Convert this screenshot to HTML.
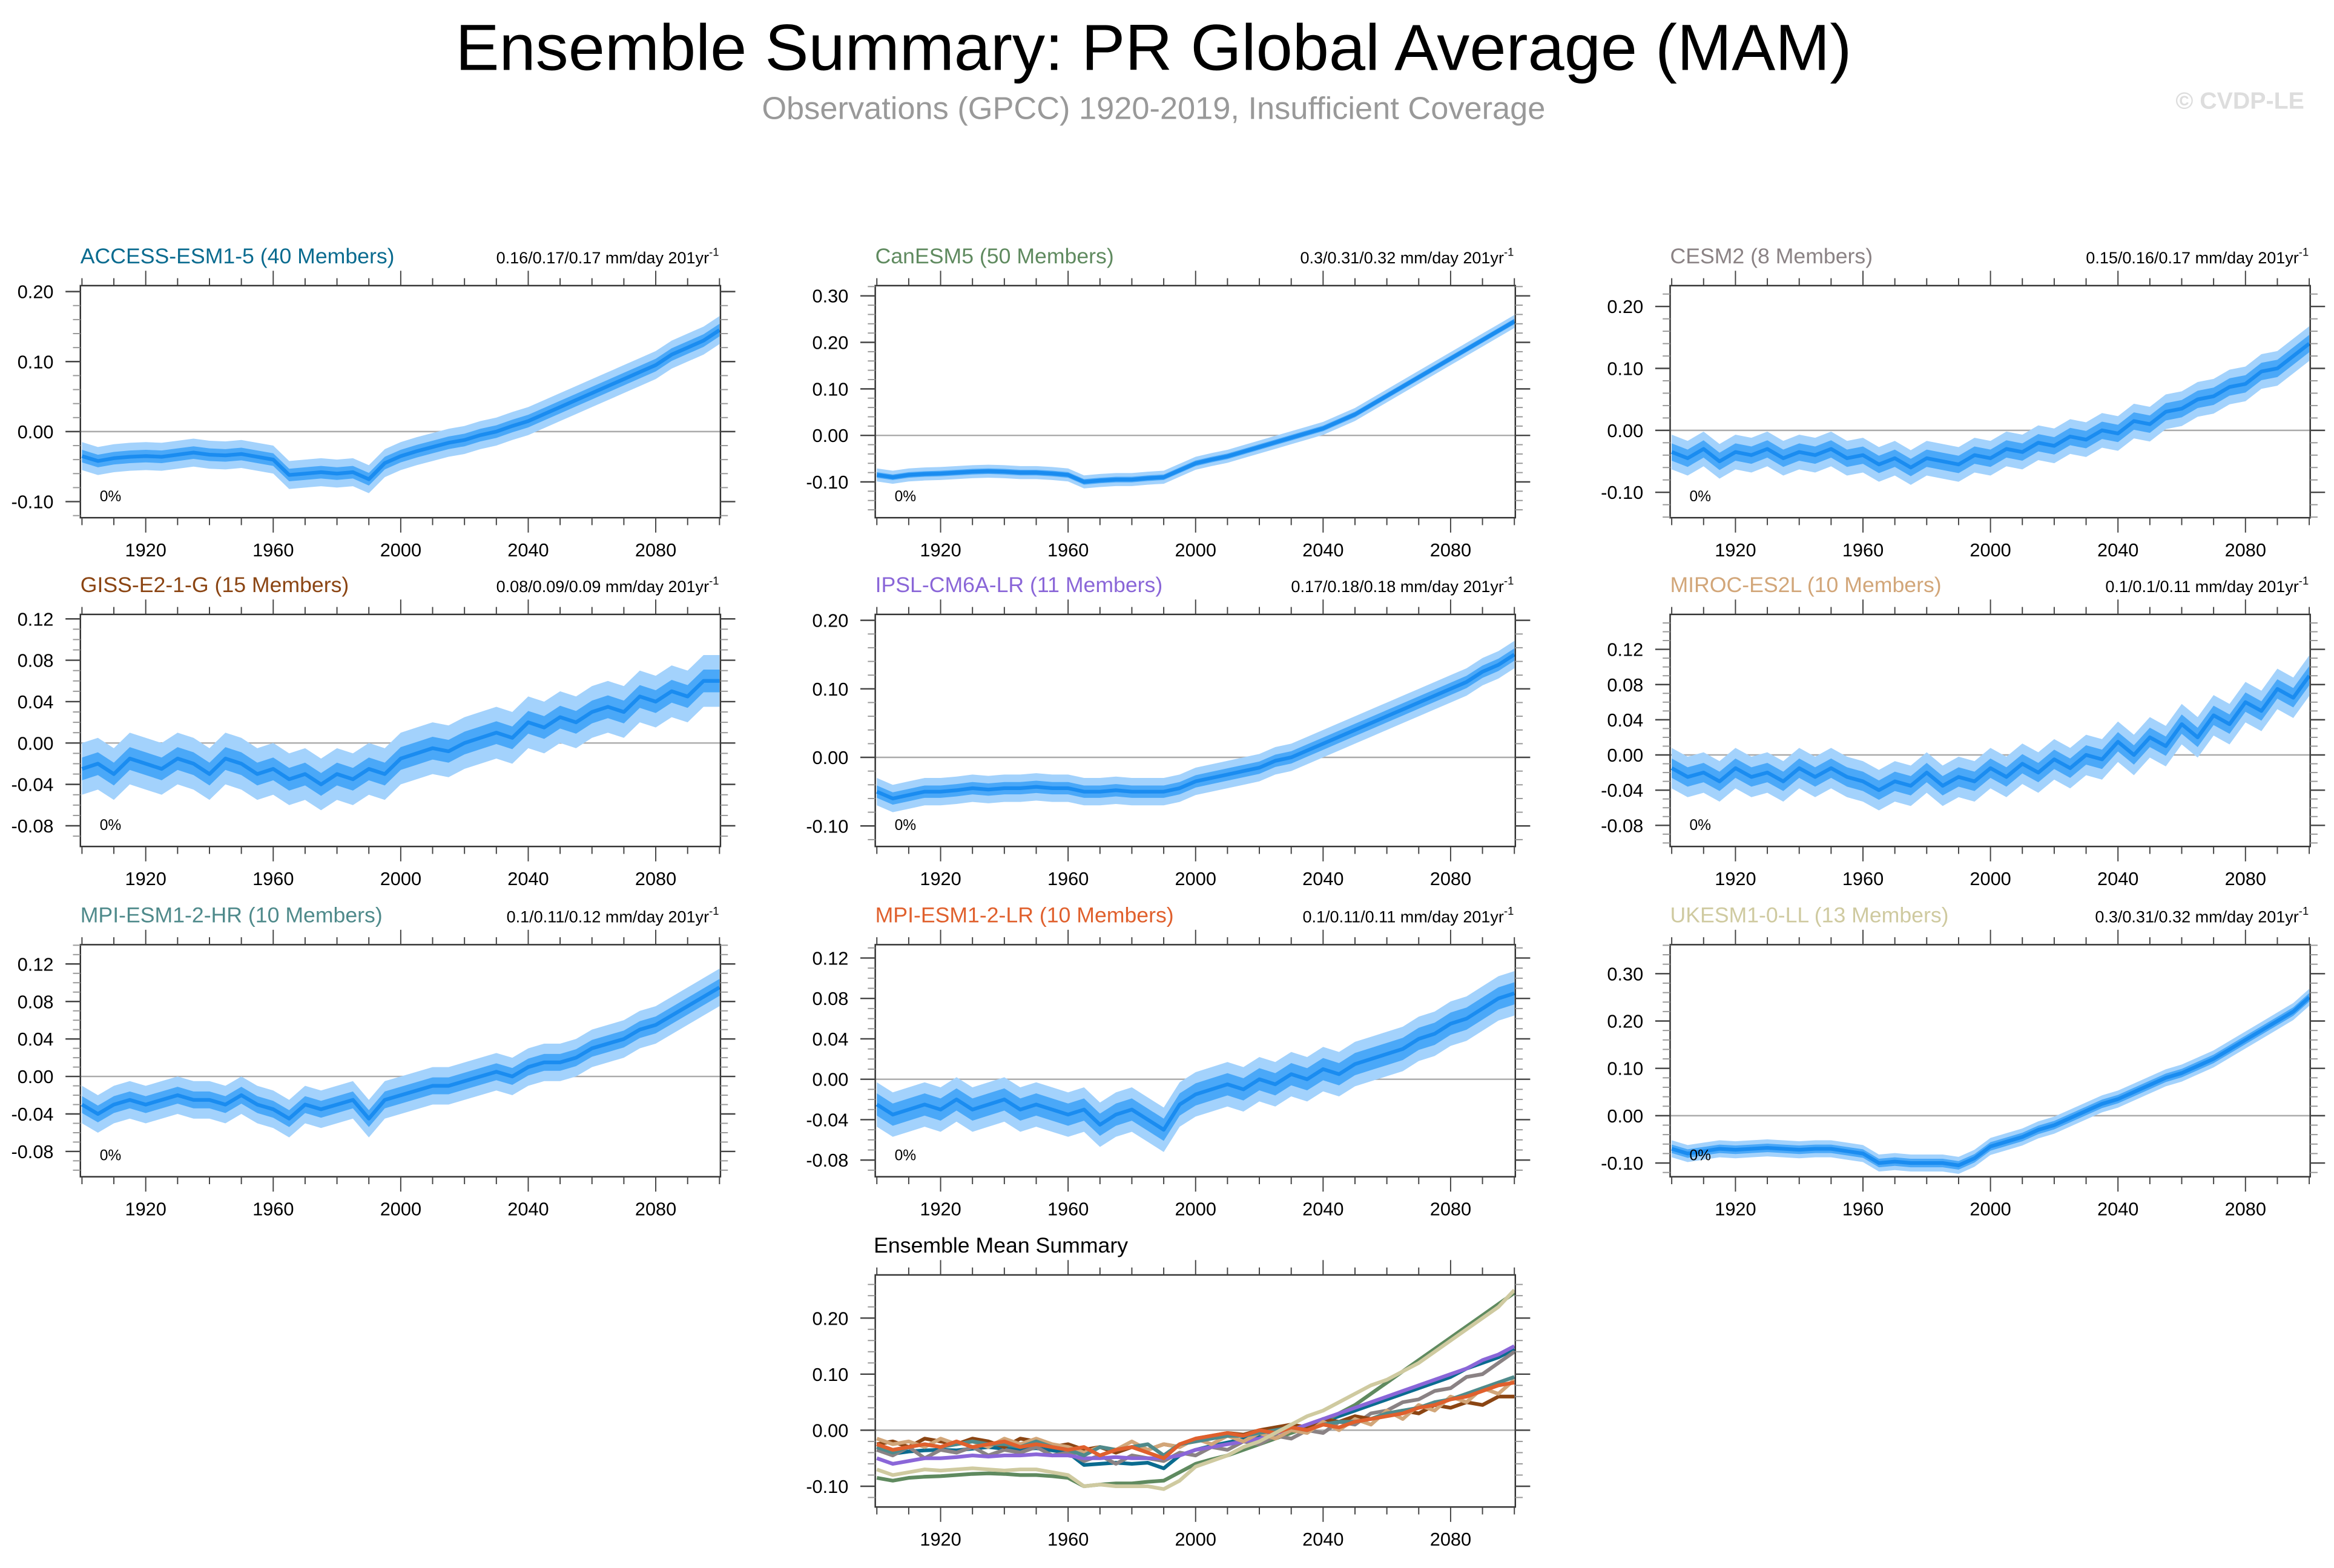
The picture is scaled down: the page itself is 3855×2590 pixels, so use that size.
<!DOCTYPE html>
<html><head><meta charset="utf-8"><title>Ensemble Summary: PR Global Average (MAM)</title>
<style>html,body{margin:0;padding:0;background:#fff}svg{display:block}text{font-family:"Liberation Sans",sans-serif}</style>
</head><body>
<svg id="chart" xmlns="http://www.w3.org/2000/svg" width="3855" height="2590" viewBox="0 0 1568 1054" preserveAspectRatio="none">
<rect x="0" y="0" width="1568" height="1054" fill="#fff"/>
<text x="775" y="47" font-size="44" text-anchor="middle" fill="#000">Ensemble Summary: PR Global Average (MAM)</text>
<text x="775" y="80" font-size="21.3" text-anchor="middle" fill="#999">Observations (GPCC) 1920-2019, Insufficient Coverage</text>
<text x="1548" y="73" font-size="16" font-weight="bold" text-anchor="end" fill="#ddd">© CVDP-LE</text>
<text x="587" y="842" font-size="14.5" fill="#000">Ensemble Mean Summary</text>
</svg>
<script>
const years = [1900,1905,1910,1915,1920,1925,1930,1935,1940,1945,1950,1955,1960,1965,1970,1975,1980,1985,1990,1995,2000,2005,2010,2015,2020,2025,2030,2035,2040,2045,2050,2055,2060,2065,2070,2075,2080,2085,2090,2095,2100];
const modelNames = ["ACCESS-ESM1-5 (40 Members)","CanESM5 (50 Members)","CESM2 (8 Members)","GISS-E2-1-G (15 Members)","IPSL-CM6A-LR (11 Members)","MIROC-ES2L (10 Members)","MPI-ESM1-2-HR (10 Members)","MPI-ESM1-2-LR (10 Members)","UKESM1-0-LL (13 Members)"];
const trendLabels = ["0.16/0.17/0.17 mm/day 201yr","0.3/0.31/0.32 mm/day 201yr","0.15/0.16/0.17 mm/day 201yr","0.08/0.09/0.09 mm/day 201yr","0.17/0.18/0.18 mm/day 201yr","0.1/0.1/0.11 mm/day 201yr","0.1/0.11/0.12 mm/day 201yr","0.1/0.11/0.11 mm/day 201yr","0.3/0.31/0.32 mm/day 201yr"];
const modelColors = ["#0a6b8f","#5f8a5f","#8a8284","#8b4513","#8a66d8","#d2a679","#4f8a8b","#e0602d","#cfcaa0"];
const meanAccess = [-0.035,-0.042,-0.038,-0.036,-0.035,-0.036,-0.033,-0.03,-0.033,-0.034,-0.032,-0.036,-0.04,-0.062,-0.06,-0.058,-0.06,-0.058,-0.068,-0.045,-0.035,-0.028,-0.022,-0.016,-0.012,-0.005,0.0,0.008,0.015,0.025,0.035,0.045,0.055,0.065,0.075,0.085,0.095,0.11,0.12,0.13,0.145];
const meanCanesm = [-0.085,-0.09,-0.085,-0.083,-0.082,-0.08,-0.078,-0.077,-0.078,-0.08,-0.08,-0.082,-0.085,-0.1,-0.097,-0.095,-0.095,-0.092,-0.09,-0.075,-0.06,-0.052,-0.045,-0.035,-0.025,-0.015,-0.005,0.005,0.015,0.03,0.045,0.065,0.085,0.105,0.125,0.145,0.165,0.185,0.205,0.225,0.245];
const meanCesm = [-0.035,-0.045,-0.03,-0.05,-0.035,-0.04,-0.03,-0.045,-0.035,-0.04,-0.03,-0.045,-0.04,-0.055,-0.045,-0.06,-0.045,-0.05,-0.055,-0.04,-0.045,-0.03,-0.035,-0.02,-0.025,-0.01,-0.015,0.0,-0.005,0.015,0.01,0.03,0.035,0.05,0.055,0.07,0.075,0.095,0.1,0.12,0.14];
const meanGiss = [-0.025,-0.02,-0.03,-0.015,-0.02,-0.025,-0.015,-0.02,-0.03,-0.015,-0.02,-0.03,-0.025,-0.035,-0.03,-0.04,-0.03,-0.035,-0.025,-0.03,-0.015,-0.01,-0.005,-0.008,0.0,0.005,0.01,0.005,0.02,0.015,0.025,0.02,0.03,0.035,0.03,0.045,0.04,0.05,0.045,0.06,0.06];
const meanIpsl = [-0.05,-0.06,-0.055,-0.05,-0.05,-0.048,-0.045,-0.047,-0.045,-0.045,-0.043,-0.045,-0.045,-0.05,-0.05,-0.048,-0.05,-0.05,-0.05,-0.045,-0.035,-0.03,-0.025,-0.02,-0.015,-0.005,0.0,0.01,0.02,0.03,0.04,0.05,0.06,0.07,0.08,0.09,0.1,0.11,0.125,0.135,0.15];
const meanMiroc = [-0.015,-0.025,-0.02,-0.03,-0.015,-0.025,-0.02,-0.03,-0.015,-0.025,-0.015,-0.025,-0.03,-0.04,-0.03,-0.035,-0.02,-0.035,-0.025,-0.03,-0.015,-0.025,-0.01,-0.02,-0.005,-0.015,0.0,-0.005,0.015,0.0,0.02,0.01,0.035,0.02,0.045,0.035,0.06,0.05,0.075,0.065,0.09];
const meanMpiHr = [-0.03,-0.04,-0.03,-0.025,-0.03,-0.025,-0.02,-0.025,-0.025,-0.03,-0.02,-0.03,-0.035,-0.045,-0.03,-0.035,-0.03,-0.025,-0.045,-0.025,-0.02,-0.015,-0.01,-0.01,-0.005,0.0,0.005,0.0,0.01,0.015,0.015,0.02,0.03,0.035,0.04,0.05,0.055,0.065,0.075,0.085,0.095];
const meanMpiLr = [-0.025,-0.035,-0.03,-0.025,-0.03,-0.02,-0.03,-0.025,-0.02,-0.03,-0.025,-0.03,-0.035,-0.03,-0.045,-0.035,-0.03,-0.04,-0.05,-0.025,-0.015,-0.01,-0.005,-0.01,0.0,-0.005,0.005,0.0,0.01,0.005,0.015,0.02,0.025,0.03,0.04,0.045,0.055,0.06,0.07,0.08,0.085];
const meanUkesm = [-0.07,-0.08,-0.075,-0.07,-0.072,-0.07,-0.068,-0.07,-0.072,-0.07,-0.07,-0.075,-0.08,-0.1,-0.097,-0.1,-0.1,-0.1,-0.105,-0.09,-0.065,-0.055,-0.045,-0.03,-0.02,-0.005,0.01,0.025,0.035,0.05,0.065,0.08,0.09,0.105,0.12,0.14,0.16,0.18,0.2,0.22,0.25];
const innerSpread = [0.009,0.006,0.014,0.011,0.009,0.011,0.009,0.011,0.009];
const outerSpread = [0.02,0.014,0.028,0.025,0.02,0.023,0.02,0.022,0.018];
const yRangeMin = [-0.123,-0.177,-0.141,-0.100,-0.130,-0.104,-0.107,-0.0965,-0.129,-0.137];
const yRangeMax = [0.2085,0.322,0.2336,0.1243,0.2086,0.1597,0.1406,0.1332,0.3613,0.277];
const yTickLabels = [
 [-0.10,0.00,0.10,0.20],[-0.10,0.00,0.10,0.20,0.30],[-0.10,0.00,0.10,0.20],
 [-0.08,-0.04,0.00,0.04,0.08,0.12],[-0.10,0.00,0.10,0.20],[-0.08,-0.04,0.00,0.04,0.08,0.12],
 [-0.08,-0.04,0.00,0.04,0.08,0.12],[-0.08,-0.04,0.00,0.04,0.08,0.12],[-0.10,0.00,0.10,0.20,0.30],
 [-0.10,0.00,0.10,0.20]];
const xTickLabels = [1920,1960,2000,2040,2080];
const allMeans = [meanAccess,meanCanesm,meanCesm,meanGiss,meanIpsl,meanMiroc,meanMpiHr,meanMpiLr,meanUkesm];

const NS="http://www.w3.org/2000/svg";
const svg=document.getElementById('chart');
function mk(tag,attrs,parent){const e=document.createElementNS(NS,tag);for(const k in attrs)e.setAttribute(k,attrs[k]);(parent||svg).appendChild(e);return e;}
const colX=[54,588,1122], rowY=[192,413,635,857], W=430, H=156;

function drawPanel(idx,left,top,isSummary){
  const g=mk('g',{});
  
  
  const ymin=yRangeMin[idx], ymax=yRangeMax[idx];
  const sx=yr=>left+(yr-1899.5)/(2100.3-1899.5)*W;
  const sy=v=>top+(ymax-v)/(ymax-ymin)*H;
  mk('rect',{x:left,y:top,width:W,height:H,fill:'#fff'},g);
  const clip='clip'+idx;
  const cp=mk('clipPath',{id:clip},g); mk('rect',{x:left,y:top,width:W,height:H},cp);
  const inner=mk('g',{'clip-path':'url(#'+clip+')'},g);
  const zl=mk('line',{x1:left,x2:left+W,y1:sy(0),y2:sy(0),stroke:'#aaa','stroke-width':1},inner);
  
  
  const series = isSummary ? allMeans.map((_,i)=>i) : [idx];
  series.forEach(m=>{
    const vals=allMeans[m];
    if(!isSummary){
      [[outerSpread[m],'#a3d2fc','outer-range-band'],[innerSpread[m],'#4aa8f8','inner-spread-band']].forEach(([s,c,nm])=>{
        let pts=years.map((y,i)=>sx(y)+','+sy(vals[i]+s));
        pts=pts.concat(years.slice().reverse().map((y,j)=>{const i=years.length-1-j;return sx(y)+','+sy(vals[i]-s);}));
        const pg=mk('polygon',{points:pts.join(' '),fill:c},inner);
        
        
      });
    }
    const pl=mk('polyline',{points:years.map((y,i)=>sx(y)+','+sy(vals[i])).join(' '),fill:'none',stroke:isSummary?modelColors[m]:'#1a8cf0','stroke-width':2.5,'stroke-linejoin':'round'},inner);
    
    
  });
  mk('rect',{x:left,y:top,width:W,height:H,fill:'none',stroke:'#333','stroke-width':1},g);
  for(let yr=1900; yr<=2100; yr+=10){
    const major=(yr-1920)%40===0;
    const L=major?10:5, x=sx(yr);
    mk('line',{x1:x,x2:x,y1:top+H,y2:top+H+L,stroke:'#444','stroke-width':0.8},g);
    mk('line',{x1:x,x2:x,y1:top,y2:top-L,stroke:'#444','stroke-width':0.8},g);
  }
  xTickLabels.forEach(yr=>{
    const t=mk('text',{x:sx(yr),y:top+H+26,'font-size':12.5,'text-anchor':'middle',fill:'#000'},g);
    t.textContent=yr;
    
    
  });
  const ticks=yTickLabels[idx];
  const step=ticks[1]-ticks[0];
  const minor=step>0.05?0.02:0.01;
  for(let v=Math.ceil((ymin+1e-9)/minor)*minor; v<=ymax+1e-9; v+=minor){
    const y=sy(v);
    mk('line',{x1:left,x2:left-5,y1:y,y2:y,stroke:'#999','stroke-width':0.8},g);
    mk('line',{x1:left+W,x2:left+W+5,y1:y,y2:y,stroke:'#999','stroke-width':0.8},g);
  }
  ticks.forEach(v=>{
    const y=sy(v);
    mk('line',{x1:left,x2:left-10,y1:y,y2:y,stroke:'#444','stroke-width':1},g);
    mk('line',{x1:left+W,x2:left+W+10,y1:y,y2:y,stroke:'#444','stroke-width':1},g);
    const t=mk('text',{x:left-18,y:y+4.5,'font-size':12.5,'text-anchor':'end',fill:'#000'},g);
    t.textContent=v.toFixed(2);
    
    
  });
  if(!isSummary){
    const tt=mk('text',{x:left,y:top-15,'font-size':14.5,fill:modelColors[idx]},g);
    tt.textContent=modelNames[idx];
    
    
    const tr=mk('text',{x:left+W-1,y:top-15,'font-size':11,'text-anchor':'end',fill:'#000'},g);
    tr.textContent=trendLabels[idx];
    const sup=mk('tspan',{dy:-5,'font-size':7.5},tr); sup.textContent='-1';
    
    
    const pc=mk('text',{x:left+13,y:top+H-11,'font-size':10,fill:'#000'},g);
    pc.textContent='0%';
    
    
  }
}
for(let i=0;i<9;i++) drawPanel(i,colX[i%3],rowY[Math.floor(i/3)],false);
drawPanel(9,colX[1],rowY[3],true);
</script>
</body></html>
